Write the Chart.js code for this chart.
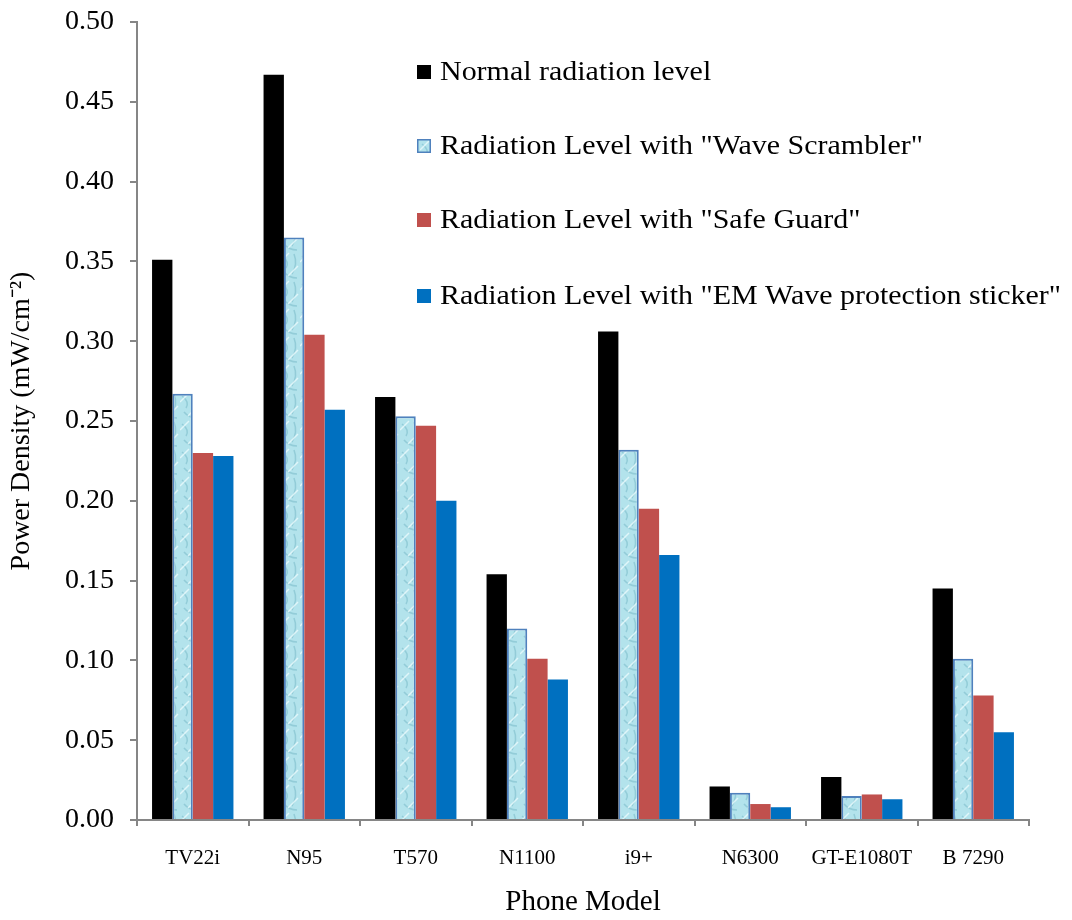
<!DOCTYPE html>
<html>
<head>
<meta charset="utf-8">
<script src="https://cdn.jsdelivr.net/npm/chart.js@4"></script>
<style>
  html, body { margin: 0; padding: 0; background: #fff; }
  #wrap { width: 1072px; height: 920px; }
</style>
</head>
<body>
<div id="wrap"><canvas id="chart" width="1072" height="920"></canvas></div>
<script>
const phoneModels = ["TV22i", "N95", "T570", "N1100", "i9+", "N6300", "GT-E1080T", "B 7290"];
const normalLevel = [0.351, 0.467, 0.265, 0.154, 0.306, 0.021, 0.027, 0.145];
const waveScrambler = [0.267, 0.365, 0.253, 0.120, 0.232, 0.017, 0.015, 0.101];
const safeGuard = [0.230, 0.304, 0.247, 0.101, 0.195, 0.010, 0.016, 0.078];
const emSticker = [0.228, 0.257, 0.200, 0.088, 0.166, 0.008, 0.013, 0.055];
const seriesNames = [
    "Normal radiation level",
    "Radiation Level with \"Wave Scrambler\"",
    "Radiation Level with \"Safe Guard\"",
    "Radiation Level with \"EM Wave protection sticker\""
];

const SERIF = "'Liberation Serif', 'Times New Roman', serif";

// light cyan marbled fill for the "Wave Scrambler" bars
function makeTexture() {
    const c = document.createElement("canvas");
    c.width = 20;
    c.height = 28;
    const g = c.getContext("2d");
    g.fillStyle = "#b3e3ec";
    g.fillRect(0, 0, 20, 28);
    g.strokeStyle = "rgba(120,185,200,0.55)";
    g.lineWidth = 1.5;
    g.beginPath();
    g.moveTo(2, 4); g.quadraticCurveTo(10, 10, 6, 16);
    g.moveTo(14, 2); g.quadraticCurveTo(18, 12, 12, 22);
    g.moveTo(4, 20); g.quadraticCurveTo(9, 26, 17, 26);
    g.stroke();
    g.strokeStyle = "rgba(235,250,252,0.8)";
    g.beginPath();
    g.moveTo(0, 10); g.lineTo(9, 1);
    g.moveTo(8, 24); g.lineTo(18, 14);
    g.stroke();
    return g.createPattern(c, "repeat");
}

const texture = makeTexture();

// legend drawn inside the plot, top right, one entry per row
const innerLegend = {
    id: "innerLegend",
    afterDraw(chart) {
        const ctx = chart.ctx;
        const x0 = 417;
        const rows = [72, 146, 220, 296];
        ctx.save();
        ctx.font = "28px " + SERIF;
        ctx.textBaseline = "middle";
        ctx.textAlign = "left";
        chart.data.datasets.forEach((ds, i) => {
            const y = rows[i];
            ctx.fillStyle = ds.backgroundColor;
            ctx.fillRect(x0, y - 7, 14, 14);
            if (ds.borderWidth) {
                ctx.strokeStyle = ds.borderColor;
                ctx.lineWidth = 1.5;
                ctx.strokeRect(x0 + 0.75, y - 6.25, 12.5, 12.5);
            }
            ctx.fillStyle = "#000";
            // text in the original is a little wider than Liberation Serif
            ctx.save();
            ctx.translate(x0 + 23, y + 1);
            ctx.scale(1.07, 1);
            ctx.fillText(ds.label, 0, 0);
            ctx.restore();
        });
        ctx.restore();
    }
};

const ctx = document.getElementById("chart").getContext("2d");
new Chart(ctx, {
    type: "bar",
    data: {
        labels: phoneModels,
        datasets: [
            { label: seriesNames[0], data: normalLevel, backgroundColor: "#000000", borderWidth: 0 },
            { label: seriesNames[1], data: waveScrambler, backgroundColor: texture, borderColor: "#4f81bd", borderWidth: 2 },
            { label: seriesNames[2], data: safeGuard, backgroundColor: "#c0504d", borderWidth: 0 },
            { label: seriesNames[3], data: emSticker, backgroundColor: "#0070c0", borderWidth: 0 }
        ]
    },
    options: {
        responsive: false,
        animation: false,
        devicePixelRatio: 1,
        layout: { padding: { top: 22, right: 43, bottom: 0, left: 5 } },
        datasets: { bar: { categoryPercentage: 0.73, barPercentage: 1.0 } },
        plugins: {
            legend: { display: false },
            tooltip: { enabled: false }
        },
        scales: {
            x: {
                grid: { display: true, drawOnChartArea: false, drawTicks: true, tickLength: 6, color: "#868686", lineWidth: 2, offset: true },
                border: { display: true, color: "#868686", width: 2 },
                ticks: { color: "#000", font: { family: SERIF, size: 21 }, padding: 20, maxRotation: 0, autoSkip: false },
                title: { display: true, text: "Phone Model", color: "#000", font: { family: SERIF, size: 29 }, padding: { top: 12, bottom: 0 } },
                afterFit(scale) { scale.height = 100; scale.paddingLeft = 0; scale.paddingRight = 0; }
            },
            y: {
                min: 0,
                max: 0.5,
                ticks: { stepSize: 0.05, color: "#000", font: { family: SERIF, size: 28 }, padding: 16, callback: v => Number(v).toFixed(2) },
                grid: { display: true, drawOnChartArea: false, drawTicks: true, tickLength: 7, color: "#868686", lineWidth: 2 },
                border: { display: true, color: "#868686", width: 2 },
                title: { display: true, text: "Power Density (mW/cm\u207B\u00B2)", color: "#000", font: { family: SERIF, size: 28 }, padding: { top: 0, bottom: 4 } },
                afterFit(scale) { scale.width = 132; scale.paddingTop = 0; scale.paddingBottom = 0; }
            }
        }
    },
    plugins: [innerLegend]
});
</script>
</body>
</html>
